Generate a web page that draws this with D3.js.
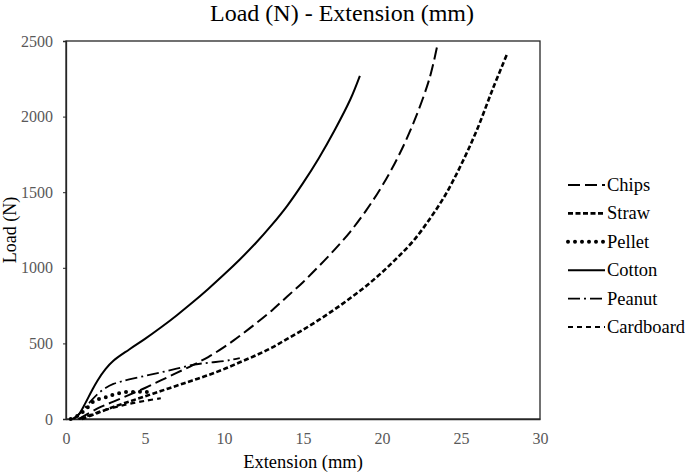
<!DOCTYPE html>
<html><head><meta charset="utf-8">
<script src="https://cdn.jsdelivr.net/npm/d3@7/dist/d3.min.js"></script>
<style>body{margin:0;background:#fff;} svg{display:block;}</style>
</head><body>
<svg id="chart" width="685" height="473"></svg>
<script>
const xTicks = [0, 5, 10, 15, 20, 25, 30];
const yTicks = [0, 500, 1000, 1500, 2000, 2500];
const seriesNames = ["Chips", "Straw", "Pellet", "Cotton", "Peanut", "Cardboard"];

const chipsX = [0.8, 2, 3, 4, 5, 6, 7, 8, 9, 10, 11, 12, 13, 14, 15, 16, 17, 18, 19, 20, 21, 22, 23, 23.5];
const chipsY = [0, 70, 115, 160, 205, 255, 305, 355, 410, 475, 550, 630, 715, 810, 905, 1010, 1120, 1240, 1380, 1540, 1730, 1960, 2250, 2470];

const strawX = [1, 2, 3, 4, 5, 6, 7, 8, 9, 10, 11, 12, 13, 14, 15, 16, 17, 18, 19, 20, 21, 22, 23, 24, 25, 26, 27, 27.9];
const strawY = [0, 40, 80, 115, 150, 185, 220, 255, 290, 330, 375, 420, 470, 530, 590, 655, 725, 800, 880, 970, 1070, 1180, 1320, 1480, 1680, 1910, 2180, 2410];

const pelletX = [0.3, 0.8, 1.3, 1.8, 2.4, 2.9, 3.4, 3.9, 4.4, 4.9, 5.4];
const pelletY = [0, 25, 70, 120, 140, 158, 172, 180, 178, 182, 172];

const cottonX = [0.4, 0.8, 1.2, 1.6, 2, 2.5, 3, 4, 5, 6, 7, 8, 9, 10, 11, 12, 13, 14, 15, 16, 17, 18, 18.6];
const cottonY = [0, 30, 100, 180, 255, 330, 385, 460, 530, 605, 685, 770, 860, 955, 1055, 1162, 1280, 1410, 1560, 1725, 1910, 2115, 2270];

const peanutX = [0.5, 1, 1.5, 2, 2.5, 3, 3.5, 4, 5, 6, 7, 8, 9, 10, 10.5, 11];
const peanutY = [0, 50, 110, 165, 205, 232, 248, 262, 285, 308, 333, 358, 372, 383, 392, 402];

const cardboardX = [0.8, 1.5, 2, 3, 4, 5, 6];
const cardboardY = [0, 25, 45, 75, 100, 120, 137];

const seriesX = [chipsX, strawX, pelletX, cottonX, peanutX, cardboardX];
const seriesY = [chipsY, strawY, pelletY, cottonY, peanutY, cardboardY];

const styles = {
  Chips: {dash: "12,5", width: 2, cap: "butt"},
  Straw: {dash: "5,2.5", width: 2.6, cap: "butt"},
  Pellet: {dash: "0,7", width: 4, cap: "round"},
  Cotton: {dash: null, width: 2, cap: "butt"},
  Peanut: {dash: "12,4,2,4", width: 1.8, cap: "butt"},
  Cardboard: {dash: "5,4", width: 2.2, cap: "butt"}
};

const svg = d3.select("#chart");
const m = {left: 66, right: 145, top: 41, bottom: 54};
const W = 685, H = 473;
const x = d3.scaleLinear().domain([0, 30]).range([m.left, W - m.right]);
const y = d3.scaleLinear().domain([0, 2500]).range([H - m.bottom, m.top]);

const serif = "'Liberation Serif','Times New Roman',serif";

// frame
svg.append("rect").attr("x", x(0)).attr("y", y(2500))
  .attr("width", x(30) - x(0)).attr("height", y(0) - y(2500))
  .attr("fill", "none").attr("stroke", "#262626").attr("stroke-width", 1.3);

const xAxis = svg.append("g").attr("transform", `translate(0,${y(0)})`)
  .call(d3.axisBottom(x).tickValues(xTicks).tickFormat(d3.format("d")).tickSize(0).tickPadding(14));
const yAxis = svg.append("g").attr("transform", `translate(${x(0)},0)`)
  .call(d3.axisLeft(y).tickValues(yTicks).tickFormat(d3.format("d")).tickSize(3).tickPadding(10));
[xAxis, yAxis].forEach(g => {
  g.select(".domain").attr("stroke", "#262626").attr("stroke-width", 1.3);
  g.selectAll(".tick line").attr("stroke", "#262626");
  g.selectAll("text").attr("font-family", serif).attr("font-size", 16).attr("fill", "#595959");
});

const line = d3.line().x(d => x(d[0])).y(d => y(d[1])).curve(d3.curveCatmullRom.alpha(0.5));

seriesNames.forEach((name, i) => {
  const pts = seriesX[i].map((v, j) => [v, seriesY[i][j]]);
  const st = styles[name];
  svg.append("path").datum(pts).attr("d", line)
    .attr("fill", "none").attr("stroke", "#000")
    .attr("stroke-width", st.width)
    .attr("stroke-linecap", st.cap)
    .attr("stroke-dasharray", st.dash);
});

// title
svg.append("text").attr("x", 342).attr("y", 21).attr("text-anchor", "middle")
  .attr("font-family", serif).attr("font-size", 24).attr("fill", "#000")
  .text("Load (N) - Extension (mm)");
svg.append("text").attr("x", x(15)).attr("y", 468).attr("text-anchor", "middle")
  .attr("font-family", serif).attr("font-size", 18.5).attr("fill", "#000")
  .text("Extension (mm)");
svg.append("text").attr("transform", `translate(16,${(y(0) + y(2500)) / 2}) rotate(-90)`)
  .attr("text-anchor", "middle")
  .attr("font-family", serif).attr("font-size", 18).attr("fill", "#000")
  .text("Load (N)");

// legend
const lg = svg.append("g");
seriesNames.forEach((name, i) => {
  const yy = 185 + i * 28.4;
  const st = styles[name];
  lg.append("line").attr("x1", 568).attr("x2", 605).attr("y1", yy).attr("y2", yy)
    .attr("stroke", "#000").attr("stroke-width", st.width)
    .attr("stroke-linecap", st.cap).attr("stroke-dasharray", st.dash);
  lg.append("text").attr("x", 607).attr("y", yy + 6)
    .attr("font-family", serif).attr("font-size", 18.5).attr("fill", "#000")
    .text(name);
});
</script>
</body></html>
